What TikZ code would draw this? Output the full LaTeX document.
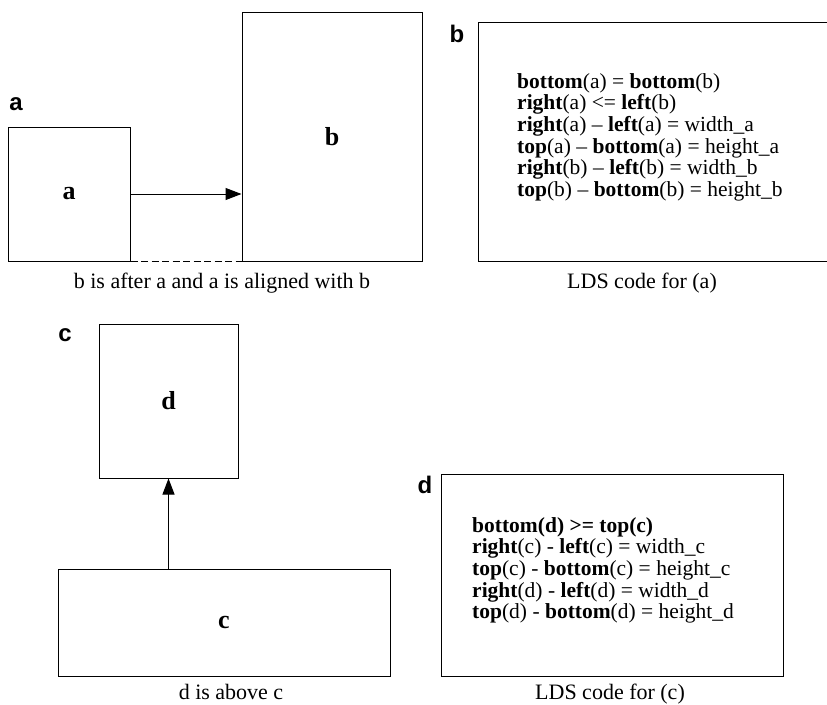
\documentclass[tikz,border=0pt]{standalone}
\usepackage{fontspec}
\setmainfont{Liberation Serif}
\newfontfamily\panelfont{Liberation Sans}
\usetikzlibrary{arrows.meta}
\tikzset{
  box/.style={draw, line width=1pt, inner sep=0pt, font=\fontsize{26}{28}\selectfont\bfseries},
  arr/.style={line width=1pt, -{Triangle[length=16pt,width=12pt]}},
  dashline/.style={line width=1.1pt, dash pattern=on 7pt off 3.5pt},
  panellabel/.style={font=\panelfont\fontsize{24}{26}\selectfont\bfseries, inner sep=0pt},
  caption/.style={font=\fontsize{22}{24}\selectfont, inner sep=0pt, anchor=base},
  codeline/.style={font=\fontsize{21.5}{23}\selectfont, inner sep=0pt, anchor=base west},
  frame/.style={line width=1pt}
}
\begin{document}
\begin{tikzpicture}[x=1pt,y=-1pt]
\useasboundingbox (0,0) rectangle (827,704);

% ---- panel a ----
\node[panellabel] (la) at (16,104) {a};
\node[box, minimum width=122pt, minimum height=134pt] (a) at (69,194) {a};
\node[box, minimum width=180pt, minimum height=249pt] (b) at (332,136.5) {b};
\draw[arr] (a.east) -- (a.east -| b.west);
\draw[dashline] (a.south east) -- (b.south west);
\node[caption] (capa) at (222,288) {b is after a and a is aligned with b};

% ---- panel b ----
\node[panellabel] (lb) at (457,34) {b};
\coordinate (fbtr) at (830,22);
\coordinate (fbtl) at (478,22);
\coordinate (fbbl) at (478,261);
\coordinate (fbbr) at (830,261);
\draw[frame] (fbtr) -- (fbtl) -- (fbbl) -- (fbbr);
\node[codeline] (b1) at (517,88.0) {\textbf{bottom}(a) = \textbf{bottom}(b)};
\node[codeline] (b2) at (517,109.7) {\textbf{right}(a) <= \textbf{left}(b)};
\node[codeline] (b3) at (517,131.4) {\textbf{right}(a) – \textbf{left}(a) = width\_a};
\node[codeline] (b4) at (517,153.1) {\textbf{top}(a) – \textbf{bottom}(a) = height\_a};
\node[codeline] (b5) at (517,174.8) {\textbf{right}(b) – \textbf{left}(b) = width\_b};
\node[codeline] (b6) at (517,196.5) {\textbf{top}(b) – \textbf{bottom}(b) = height\_b};
\node[caption] (capb) at (642,288) {LDS code for (a)};

% ---- panel c ----
\node[panellabel] (lc) at (65,335) {c};
\node[box, minimum width=139pt, minimum height=154pt] (d) at (168.5,401) {d};
\node[box, minimum width=332pt, minimum height=107pt] (c) at (224,622.5) {c};
\draw[arr] (d.south |- c.north) -- (d.south);
\node[caption] (capc) at (231,699) {d is above c};

% ---- panel d ----
\node[panellabel] (ld) at (425,485) {d};
\node[draw, frame, minimum width=342pt, minimum height=202pt, inner sep=0pt] (fd) at (612,575) {};
\node[codeline] (d1) at (472,532.0) {\textbf{bottom(d) >= top(c)}};
\node[codeline] (d2) at (472,553.7) {\textbf{right}(c) - \textbf{left}(c) = width\_c};
\node[codeline] (d3) at (472,575.4) {\textbf{top}(c) - \textbf{bottom}(c) = height\_c};
\node[codeline] (d4) at (472,597.1) {\textbf{right}(d) - \textbf{left}(d) = width\_d};
\node[codeline] (d5) at (472,618.8) {\textbf{top}(d) - \textbf{bottom}(d) = height\_d};
\node[caption] (capd) at (610,699) {LDS code for (c)};
\end{tikzpicture}
\end{document}
